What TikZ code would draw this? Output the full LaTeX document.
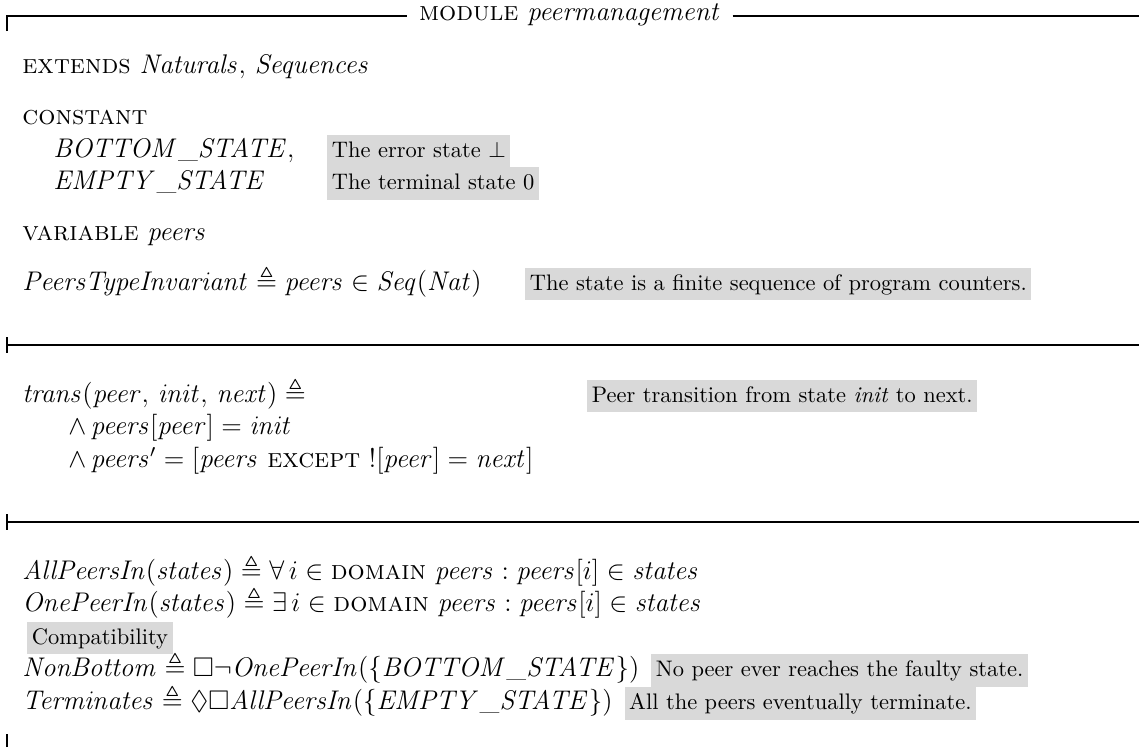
\documentclass[tikz,border=0pt]{standalone}
\usepackage{amssymb}
\usetikzlibrary{positioning}
\tikzstyle{tla}=[
	anchor=base west,
	inner sep=0pt,
	font=\large
]
\tikzstyle{remark}=[
	anchor=base west,
	fill=gray!30,
	inner xsep=2pt,
	inner ysep=0pt,
	text height=10pt,
	text depth=4.5pt,
	font=\normalsize
]
\tikzstyle{modrule}=[
	semithick
]

\begin{document}
\begin{tikzpicture}[x=0.445pt,y=-0.445pt]
\useasboundingbox (0,0) rectangle (1139,747);
% module header
\node [anchor=base,inner sep=5pt,font=\large] (title) at (570,20) {\textsc{module} $\mathit{peermanagement}$};
\coordinate (topleft) at (7,16);
\coordinate (topright) at (1139,16);
\draw [modrule] (topleft) ++(0,15) -- (topleft) -- (topleft -| title.west);
\draw [modrule] (topright -| title.east) -- (topright);
% declarations
\node [tla] (extends) at (22,73) {\textsc{extends} $\mathit{Naturals},\, \mathit{Sequences}$};
\node [tla] (constant) at (22,124) {\textsc{constant}};
\node [tla] (bottom) at (53,157) {$\mathit{BOTTOM\_STATE},$};
\node [tla] (empty) at (53,189.5) {$\mathit{EMPTY\_STATE}$};
\node [remark] (errnote) at (327,157) {The error state $\bot$};
\node [remark] (zeronote) at (327,189.5) {The terminal state 0};
\node [tla] (variable) at (22,240) {\textsc{variable} $\mathit{peers}$};
\node [tla] (typeinv) at (22,290) {$\mathit{PeersTypeInvariant} \triangleq \mathit{peers} \in \mathit{Seq}(\mathit{Nat})$};
\node [remark] (typenote) at (525,290) {The state is a finite sequence of program counters.};
% first separator
\coordinate (sepA) at (7,345);
\draw [modrule] (sepA) ++(0,-8) -- ++(0,16);
\draw [modrule] (sepA) -- (sepA -| topright);
% transition
\node [tla] (trans) at (22,402) {$\mathit{trans}(\mathit{peer},\, \mathit{init},\, \mathit{next}) \triangleq$};
\node [tla] (conjA) at (68,434.6) {$\land\, \mathit{peers}[\mathit{peer}] = \mathit{init}$};
\node [tla] (conjB) at (68,467.2) {$\land\, \mathit{peers}' = [\mathit{peers}\ \textsc{except}\ ![\mathit{peer}] = \mathit{next}]$};
\node [remark] (transnote) at (587,402) {Peer transition from state \textit{init} to next.};
% second separator
\coordinate (sepB) at (7,522);
\draw [modrule] (sepB) ++(0,-8) -- ++(0,16);
\draw [modrule] (sepB) -- (sepB -| topright);
% properties
\node [tla] (allin) at (22,579) {$\mathit{AllPeersIn}(\mathit{states}) \triangleq \forall\, i \in \textsc{domain}\ \mathit{peers} : \mathit{peers}[i] \in \mathit{states}$};
\node [tla] (onein) at (22,611.6) {$\mathit{OnePeerIn}(\mathit{states}) \triangleq \exists\, i \in \textsc{domain}\ \mathit{peers} : \mathit{peers}[i] \in \mathit{states}$};
\node [remark] (compat) at (27,644.2) {Compatibility};
\node [tla] (nonbottom) at (22,676.8) {$\mathit{NonBottom} \triangleq \Box\lnot \mathit{OnePeerIn}(\{\mathit{BOTTOM\_STATE}\})$};
\node [remark, right=5pt of nonbottom.base east, anchor=base west] (faultnote) {No peer ever reaches the faulty state.};
\node [tla] (terminates) at (22,709.4) {$\mathit{Terminates} \triangleq \Diamond\Box \mathit{AllPeersIn}(\{\mathit{EMPTY\_STATE}\})$};
\node [remark, right=5pt of terminates.base east, anchor=base west] (endnote) {All the peers eventually terminate.};
% closing rule
\coordinate (bottomleft) at (7,747);
\draw [modrule] (bottomleft) -- ++(0,-13);
\end{tikzpicture}
\end{document}
